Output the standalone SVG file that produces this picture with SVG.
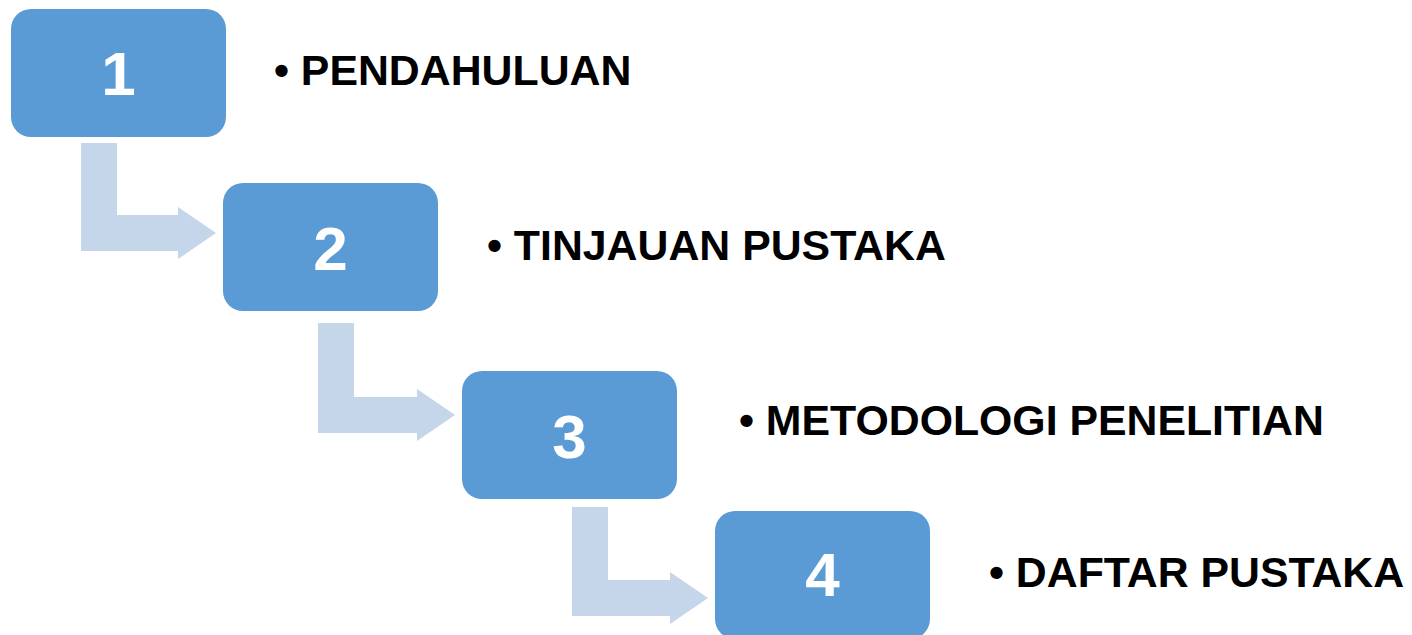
<svg xmlns="http://www.w3.org/2000/svg" width="1412" height="635" viewBox="0 0 1412 635">
  <style>
    .box { fill: #5B9BD5; }
    .arrow { fill: #C5D5EA; }
    .num { font-family: "Liberation Sans", Arial, sans-serif; font-weight: bold; font-size: 62px; fill: #FFFFFF; text-anchor: middle; }
    .label { font-family: "Liberation Sans", Arial, sans-serif; font-weight: bold; font-size: 42.8px; fill: #000000; }
  </style>
  <rect width="1412" height="635" fill="#FFFFFF"/>
  <g id="connectors">
    <polygon class="arrow" points="81,143 117,143 117,215 178,215 178,207 216,233 178,259 178,251 81,251"/>
    <polygon class="arrow" points="318,323 354,323 354,397 417,397 417,389 455,415 417,441 417,433 318,433"/>
    <polygon class="arrow" points="572,507 608,507 608,580 670,580 670,572 708,598 670,624 670,616 572,616"/>
  </g>
  <g id="node1">
    <rect class="box" x="11" y="9" width="215" height="128" rx="20" ry="20"/>
    <text class="num" x="118.5" y="95">1</text>
    <text class="label" x="274" y="85">• PENDAHULUAN</text>
  </g>
  <g id="node2">
    <rect class="box" x="223" y="183" width="215" height="128" rx="20" ry="20"/>
    <text class="num" x="330.5" y="270">2</text>
    <text class="label" x="487" y="260">• TINJAUAN PUSTAKA</text>
  </g>
  <g id="node3">
    <rect class="box" x="462" y="371" width="215" height="128" rx="20" ry="20"/>
    <text class="num" x="569.5" y="458">3</text>
    <text class="label" x="739" y="435">• METODOLOGI PENELITIAN</text>
  </g>
  <g id="node4">
    <rect class="box" x="715" y="511" width="215" height="128" rx="20" ry="20"/>
    <text class="num" x="822.5" y="596">4</text>
    <text class="label" x="989" y="587">• DAFTAR PUSTAKA</text>
  </g>
</svg>
